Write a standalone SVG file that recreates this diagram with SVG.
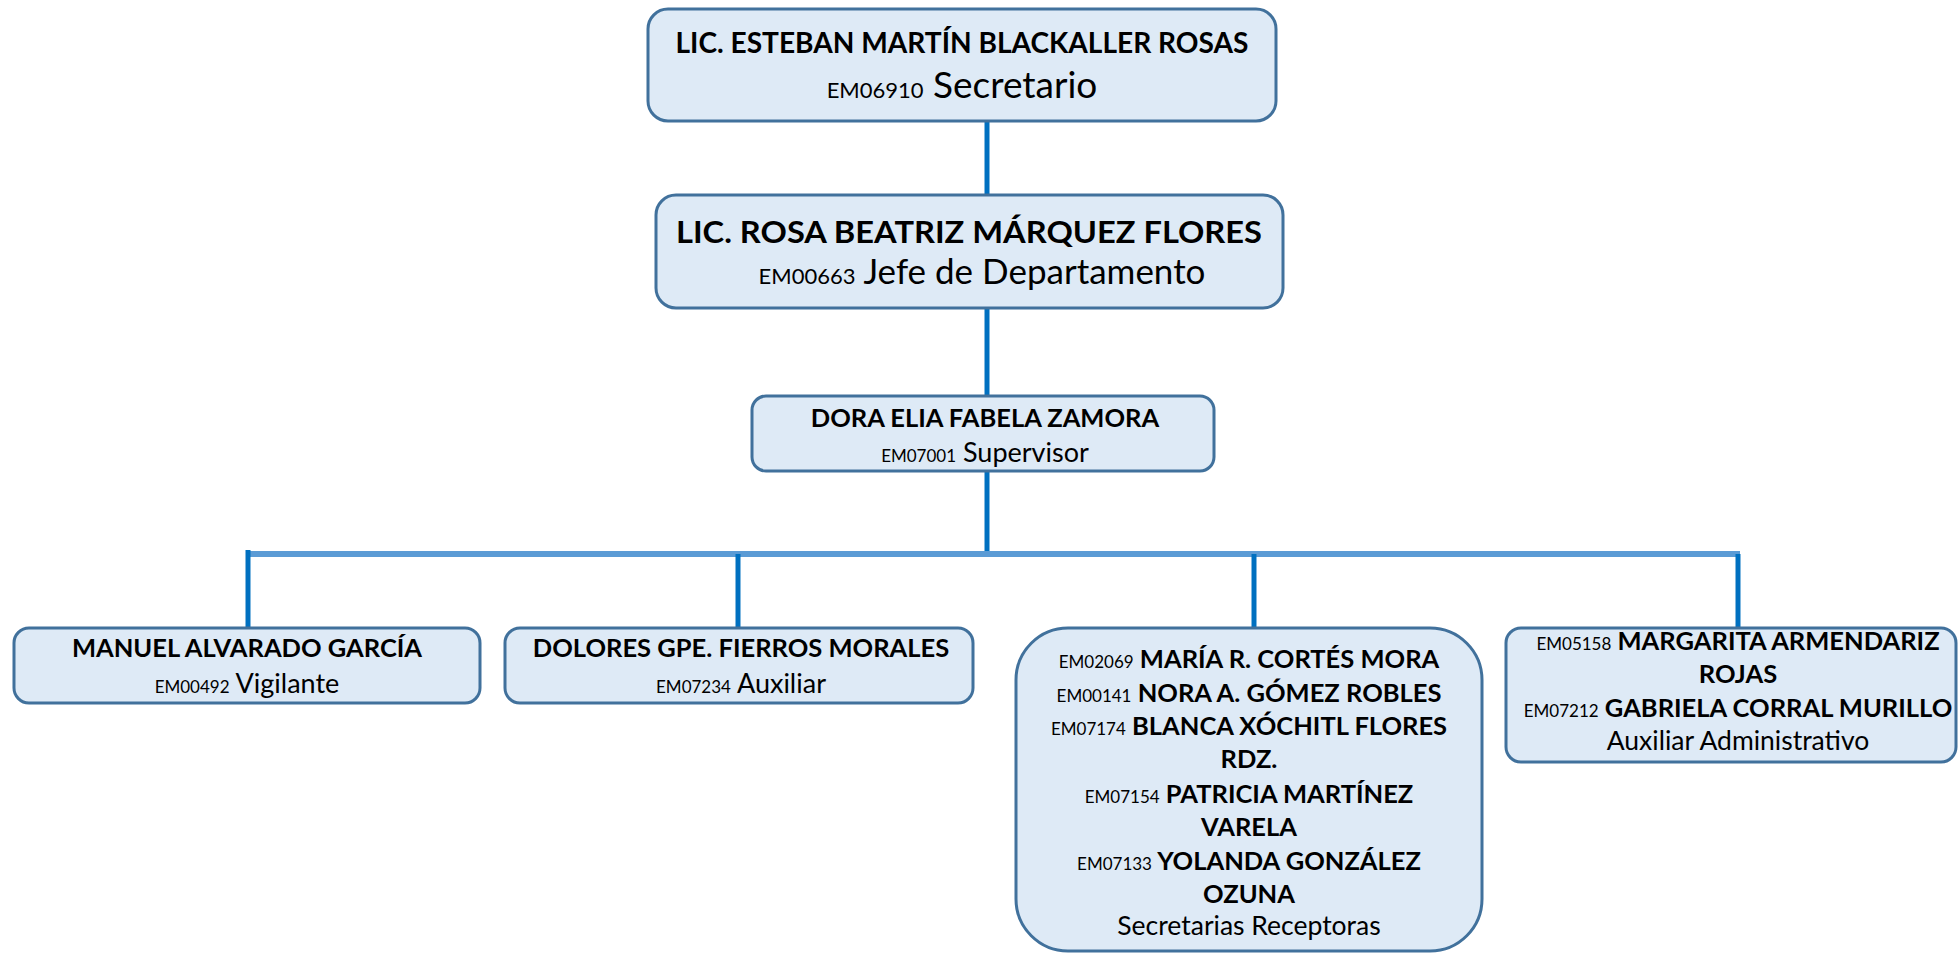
<svg xmlns="http://www.w3.org/2000/svg" width="1959" height="953" viewBox="0 0 1959 953">
<style>
.box{fill:#DEEAF6;stroke:#41719C;stroke-width:3}
text{font-family:Lato,"Liberation Sans",sans-serif;fill:#000;text-anchor:middle}
.b{font-weight:bold}
.em{font-size:17px;font-weight:normal}
.em2{font-size:22px;font-weight:normal}
.vl{stroke:#0070C0;stroke-width:5;fill:none}
.hb{stroke:#5B9BD5;stroke-width:6;fill:none}
</style>
<g id="connectors">
<line class="vl" x1="987" y1="121" x2="987" y2="195"/>
<line class="vl" x1="987" y1="308" x2="987" y2="396"/>
<line class="vl" x1="987" y1="471" x2="987" y2="551"/>
<line class="hb" x1="249" y1="554" x2="1740" y2="554"/>
<line class="vl" x1="248" y1="550" x2="248" y2="628"/>
<line class="vl" x1="738" y1="554" x2="738" y2="628"/>
<line class="vl" x1="1254" y1="554" x2="1254" y2="628"/>
<line class="vl" x1="1738" y1="554" x2="1738" y2="628"/>
</g>
<g id="n-secretario">
<rect class="box" x="648" y="9" width="628" height="112" rx="20"/>
<text class="b" x="962" y="53" font-size="29" textLength="573" lengthAdjust="spacingAndGlyphs">LIC. ESTEBAN MARTÍN BLACKALLER ROSAS</text>
<text x="962" y="98" font-size="37"><tspan class="em2">EM06910</tspan> Secretario</text>
</g>
<g id="n-jefe">
<rect class="box" x="656" y="195" width="627" height="113" rx="20"/>
<text class="b" x="969" y="243" font-size="30.5" textLength="586" lengthAdjust="spacingAndGlyphs">LIC. ROSA BEATRIZ MÁRQUEZ FLORES</text>
<text x="982" y="284" font-size="35"><tspan class="em2">EM00663</tspan> Jefe de Departamento</text>
</g>
<g id="n-supervisor">
<rect class="box" x="752" y="396" width="462" height="75" rx="14"/>
<text class="b" x="985" y="427" font-size="25.5">DORA ELIA FABELA ZAMORA</text>
<text x="985" y="462" font-size="27"><tspan class="em">EM07001</tspan> Supervisor</text>
</g>
<g id="n-vigilante">
<rect class="box" x="14" y="628" width="466" height="75" rx="15"/>
<text class="b" x="247" y="657" font-size="25.5">MANUEL ALVARADO GARCÍA</text>
<text x="247" y="693" font-size="27"><tspan class="em">EM00492</tspan> Vigilante</text>
</g>
<g id="n-auxiliar">
<rect class="box" x="505" y="628" width="468" height="75" rx="15"/>
<text class="b" x="741" y="657" font-size="25.5">DOLORES GPE. FIERROS MORALES</text>
<text x="741" y="693" font-size="27"><tspan class="em">EM07234</tspan> Auxiliar</text>
</g>
<g id="n-secretarias">
<rect class="box" x="1016" y="628" width="466" height="323" rx="52"/>
<text class="b" x="1249" y="668" font-size="25.5"><tspan class="em">EM02069</tspan> MARÍA R. CORTÉS MORA</text>
<text class="b" x="1249" y="702" font-size="25.5"><tspan class="em">EM00141</tspan> NORA A. GÓMEZ ROBLES</text>
<text class="b" x="1249" y="735" font-size="25.5"><tspan class="em">EM07174</tspan> BLANCA XÓCHITL FLORES</text>
<text class="b" x="1249" y="768" font-size="25.5">RDZ.</text>
<text class="b" x="1249" y="803" font-size="25.5"><tspan class="em">EM07154</tspan> PATRICIA MARTÍNEZ</text>
<text class="b" x="1249" y="836" font-size="25.5">VARELA</text>
<text class="b" x="1249" y="870" font-size="25.5"><tspan class="em">EM07133</tspan> YOLANDA GONZÁLEZ</text>
<text class="b" x="1249" y="903" font-size="25.5">OZUNA</text>
<text x="1249" y="935" font-size="26.5">Secretarias Receptoras</text>
</g>
<g id="n-auxadmin">
<rect class="box" x="1506" y="628" width="450" height="134" rx="15"/>
<text class="b" x="1738" y="650" font-size="25.5"><tspan class="em">EM05158</tspan> MARGARITA ARMENDARIZ</text>
<text class="b" x="1738" y="683" font-size="25.5">ROJAS</text>
<text class="b" x="1738" y="717" font-size="25.5"><tspan class="em">EM07212</tspan> GABRIELA CORRAL MURILLO</text>
<text x="1738" y="750" font-size="26.5">Auxiliar Administrativo</text>
</g>
</svg>
